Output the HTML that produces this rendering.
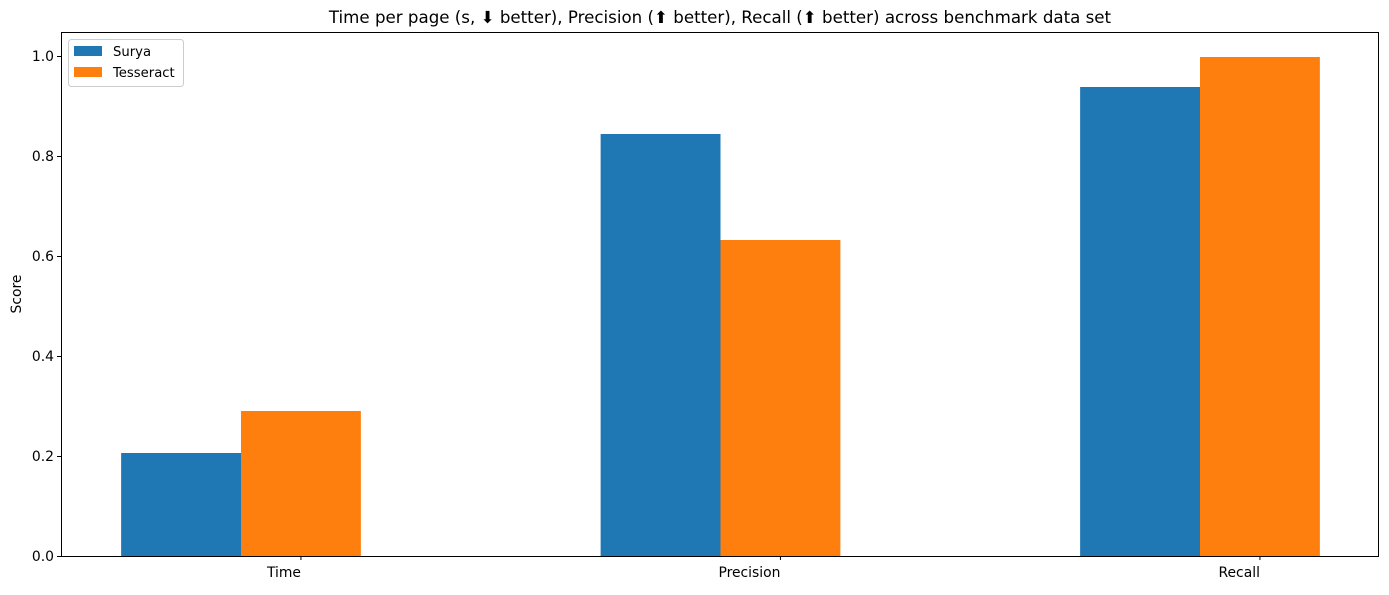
<!DOCTYPE html>
<html><head><meta charset="utf-8"><style>
body{margin:0;background:#fff;width:1389px;height:590px;overflow:hidden}
text{font-family:"DejaVu Sans","Liberation Sans",sans-serif;fill:#000}
</style></head><body>
<svg id="chart" width="1389" height="590" xmlns="http://www.w3.org/2000/svg">
<text x="720" y="23" font-size="16.67" text-anchor="middle">Time per page (s, ⬇ better), Precision (⬆ better), Recall (⬆ better) across benchmark data set</text>
<text transform="translate(21,294) rotate(-90)" font-size="13.9" text-anchor="middle">Score</text>
<g id="bars"></g>
<g id="axes"></g>
<rect x="61.5" y="32.5" width="1317" height="524" fill="none" stroke="#000" stroke-width="1"/>
<g>
<rect x="68.5" y="39.5" width="115" height="47" rx="3" fill="#fff" fill-opacity="0.8" stroke="#ccc"/>
<rect x="74" y="46" width="28" height="10" fill="#1f77b4"/>
<text x="113" y="56" font-size="13.2">Surya</text>
<rect x="74" y="67" width="28" height="10" fill="#ff7f0e"/>
<text x="113" y="77" font-size="13.2">Tesseract</text>
</g>
</svg>
<script>
const categories=["Time","Precision","Recall"];
const suryaValues=[0.206,0.844,0.938];
const tesseractValues=[0.29,0.632,0.998];
const yTicks=["0.0","0.2","0.4","0.6","0.8","1.0"];
const NS="http://www.w3.org/2000/svg";
const x=v=>241+v*479.5;
const y=v=>556-v*500;
const bars=document.getElementById('bars'),axes=document.getElementById('axes');
function mk(tag,attrs,parent){const e=document.createElementNS(NS,tag);for(const k in attrs)e.setAttribute(k,attrs[k]);parent.appendChild(e);return e;}
[[suryaValues,"#1f77b4",-0.25,"surya"],[tesseractValues,"#ff7f0e",0,"tesseract"]].forEach(([vals,col,off,nm])=>{
vals.forEach((v,i)=>{const r=mk('rect',{x:x(i+off),y:y(v),width:x(0.25)-x(0),height:y(0)-y(v),fill:col},bars);

});});
categories.forEach((c,i)=>{const tx=x(i+0.125);mk('line',{x1:tx,x2:tx,y1:556,y2:560,stroke:'#000'},axes);
const t=mk('text',{x:tx,y:577,'font-size':13.9,'text-anchor':'end'},axes);t.textContent=c;

});
yTicks.forEach(s=>{const v=parseFloat(s);mk('line',{x1:57,x2:61,y1:y(v)+0.5,y2:y(v)+0.5,stroke:'#000'},axes);
const t=mk('text',{x:54,y:y(v)+5,'font-size':13.9,'text-anchor':'end'},axes);t.textContent=s;

});
</script>
</body></html>
